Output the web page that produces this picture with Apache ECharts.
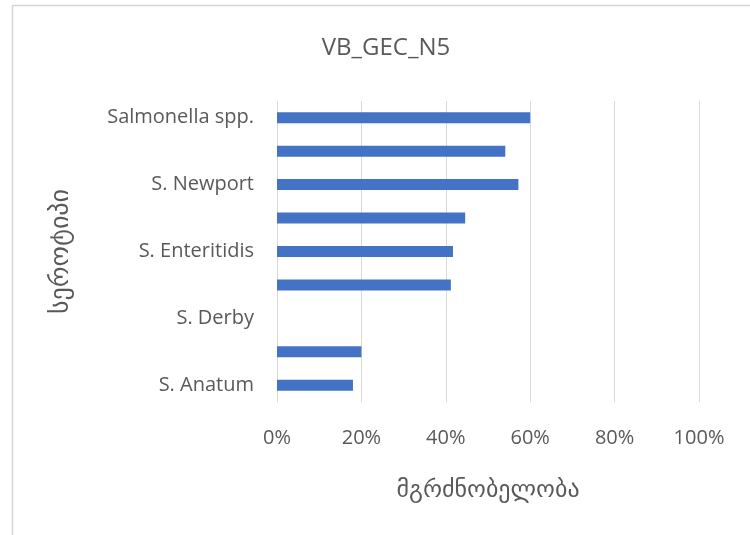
<!DOCTYPE html>
<html>
<head>
<meta charset="utf-8">
<script src="https://cdn.jsdelivr.net/npm/echarts@6/dist/echarts.min.js"></script>
<style>
  html, body { margin: 0; padding: 0; background: #fff; }
  #chart { width: 750px; height: 535px; }
</style>
</head>
<body>
<div id="chart"></div>
<script>
// Serotypes, bottom to top; every other one carries no printed label
const categories = ['S. Anatum', '', 'S. Derby', '', 'S. Enteritidis', '', 'S. Newport', '', 'Salmonella spp.'];
// Sensitivity share (%) per serotype
const sensitivity = [18, 20, 0, 41.2, 41.7, 44.6, 57.2, 54.1, 60];
const xTicks = [0, 20, 40, 60, 80, 100];

const chart = echarts.init(document.getElementById('chart'));
const latin = '"Open Sans", Lato, sans-serif';
const georgian = '"DejaVu Sans", sans-serif';
const grey = '#595959';

chart.setOption({
  animation: false,
  title: {
    text: 'VB_GEC_N5',
    left: 381,
    top: 31,
    textAlign: 'center',
    textStyle: { fontFamily: latin, fontSize: 24, fontWeight: 'normal', color: grey }
  },
  graphic: [{
    type: 'rect',
    shape: { x: 12.5, y: 5.5, width: 800, height: 600 },
    style: { fill: 'none', stroke: '#d6d6d6', lineWidth: 1.5 },
    silent: true
  }],
  grid: { left: 277, right: 51, top: 101, bottom: 133 },
  xAxis: {
    type: 'value',
    min: xTicks[0],
    max: xTicks[xTicks.length - 1],
    interval: 20,
    name: 'მგრძნობელობა',
    nameLocation: 'middle',
    nameGap: 77,
    nameTextStyle: { fontFamily: georgian, fontSize: 24, color: grey },
    axisLine: { show: false },
    axisTick: { show: false },
    axisLabel: {
      formatter: '{value}%',
      margin: 26,
      fontFamily: latin, fontSize: 20, color: grey
    },
    splitLine: { lineStyle: { color: '#d9d9d9', width: 1 } }
  },
  yAxis: {
    type: 'category',
    data: categories,
    name: 'სეროტიპი',
    nameLocation: 'middle',
    nameGap: 203,
    nameTextStyle: { fontFamily: georgian, fontSize: 26, color: grey },
    axisLine: { show: false },
    axisTick: { show: false },
    axisLabel: {
      interval: 1,
      margin: 23,
      fontFamily: latin, fontSize: 20, color: grey
    }
  },
  series: [{
    type: 'bar',
    data: sensitivity,
    barWidth: 11,
    itemStyle: { color: '#4472C4' }
  }]
});
</script>
</body>
</html>
